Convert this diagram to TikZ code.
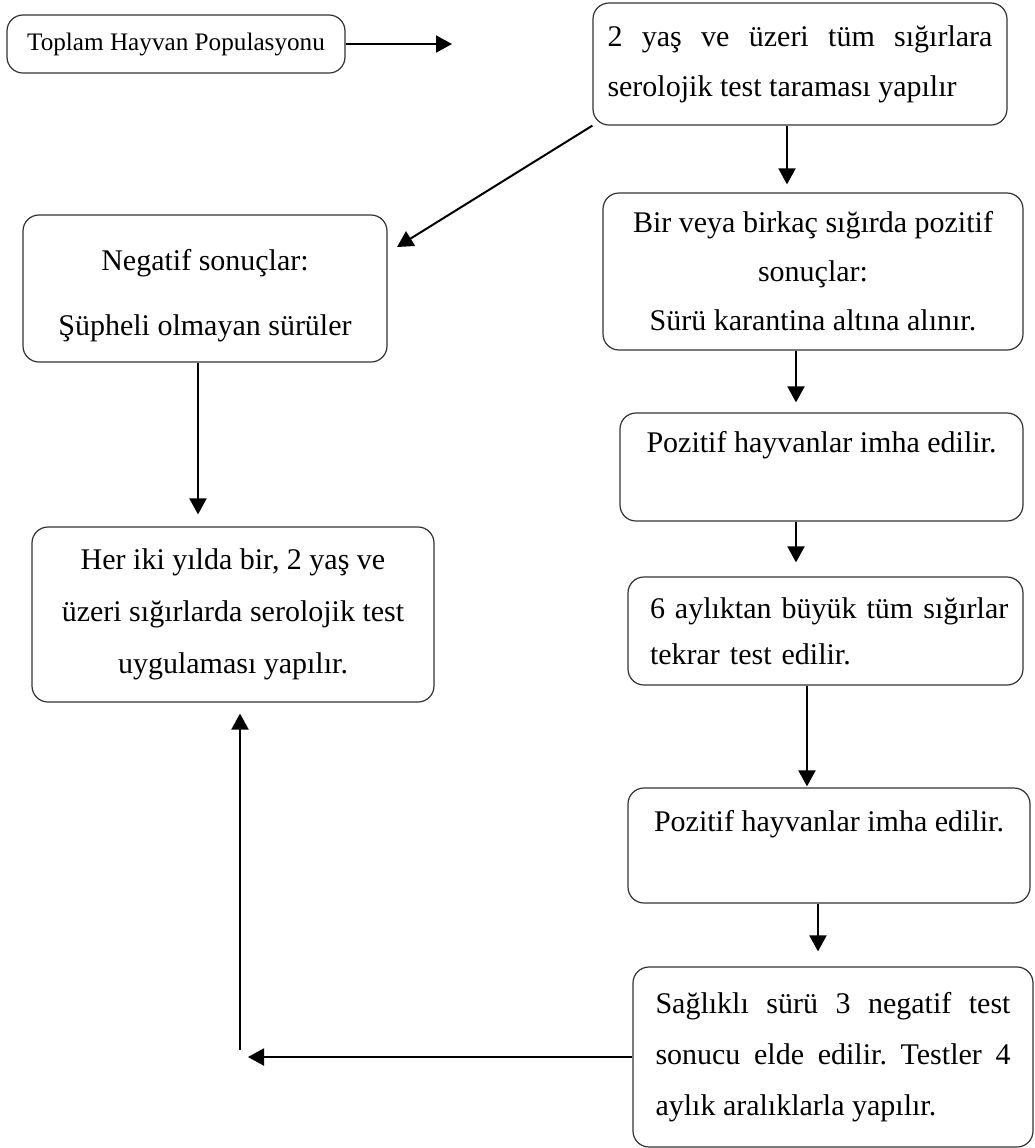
\documentclass[tikz,border=0pt]{standalone}
\usepackage{fontspec}
\setmainfont{Liberation Serif}
\usetikzlibrary{arrows.meta}
\frenchspacing

\begin{document}
\begin{tikzpicture}[x=0.5pt,y=-0.5pt,
  box/.style={draw=black!80,line width=0.6pt,rounded corners=8pt,inner sep=0pt,
    font=\fontsize{15}{25}\selectfont},
  arr/.style={line width=1pt,-{Triangle[length=8pt,width=8.5pt]}}]
\useasboundingbox (0,0) rectangle (1035,1148);
% boxes
\node[box,minimum width=169pt,minimum height=29pt,font=\fontsize{12.6}{15}\selectfont] (total) at (176,44) {Toplam Hayvan Populasyonu};
\node[box,minimum width=207pt,minimum height=61pt,text width=192.5pt,align=justify] (screen) at (800,64) {2 yaş ve üzeri tüm sığırlara\linebreak serolojik test taraması yapılır};
\node[box,minimum width=182pt,minimum height=73.5pt,align=center,text height=50pt,text depth=3.5pt,font=\fontsize{15}{32.5}\selectfont] (neg) at (205,288.5) {Negatif sonuçlar:\\Şüpheli olmayan sürüler};
\node[box,minimum width=201pt,minimum height=87.5pt,align=center,font=\fontsize{15}{26}\selectfont] (biennial) at (233,614.5) {Her iki yılda bir, 2 yaş ve\\üzeri sığırlarda serolojik test\\uygulaması yapılır.};
\node[box,minimum width=210pt,minimum height=78.5pt,align=center,font=\fontsize{15}{24.5}\selectfont] (pos) at (813,271.5) {Bir veya birkaç sığırda pozitif\\sonuçlar:\\Sürü karantina altına alınır.};
\node[box,minimum width=201.5pt,minimum height=54pt,align=center] (cullA) at (821.5,467) {Pozitif hayvanlar imha edilir.\\\mbox{}};
\node[box,minimum width=197.5pt,minimum height=54pt,text width=175.5pt,align=left,font=\fontsize{15}{23}\selectfont] (retest) at (825.5,631) {\mbox{6 aylıktan büyük tüm sığırlar}\\tekrar test edilir.};
\node[box,minimum width=201pt,minimum height=57.5pt,align=center] (cullB) at (829,845.5) {Pozitif hayvanlar imha edilir.\\\mbox{}};
\node[box,minimum width=200pt,minimum height=90pt,text width=177.5pt,align=justify,font=\fontsize{15}{25.5}\selectfont] (healthy) at (833,1057) {Sağlıklı sürü 3 negatif test\linebreak sonucu elde edilir. Testler 4\linebreak aylık aralıklarla yapılır.};
% free ends
\coordinate (totalend) at (452,44);
\coordinate (negtip) at (397,247);
\coordinate (backtip) at (248,1057);
\coordinate (backfoot) at (240,1050);
% arrows
\draw[arr] (total) -- (totalend);
\draw[arr] (screen.south west) -- (negtip);
\draw[arr] ([xshift=-6.5pt]screen.south) -- ([xshift=-13pt,yshift=4pt]pos.north);
\draw[arr] ([xshift=-8.5pt]pos.south) -- ([xshift=-12.75pt,yshift=5pt]cullA.north);
\draw[arr] ([xshift=-12.75pt]cullA.south) -- ([xshift=-14.75pt,yshift=7pt]retest.north);
\draw[arr] ([xshift=-9.25pt]retest.south) -- ([xshift=-11pt,yshift=0.5pt]cullB.north);
\draw[arr] ([xshift=-5.5pt]cullB.south) -- ([xshift=-7.5pt,yshift=7.5pt]healthy.north);
\draw[arr] ([xshift=-3.5pt]neg.south) -- ([xshift=-17.5pt,yshift=6pt]biennial.north);
\draw[arr] (healthy.west) -- (backtip);
\draw[arr] (backfoot) -- ([xshift=3.5pt,yshift=-5.5pt]biennial.south);
\end{tikzpicture}
\end{document}
